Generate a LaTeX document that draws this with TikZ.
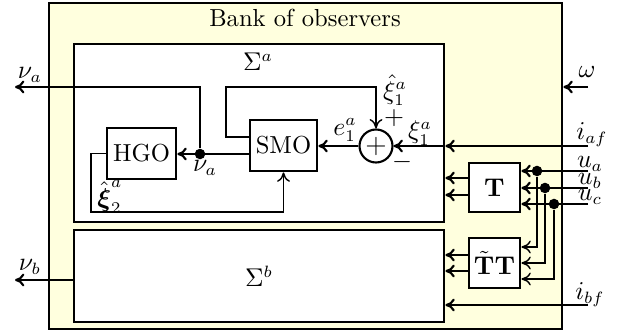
\documentclass[tikz,border=0pt]{standalone}
\usepackage{amsmath}
\usetikzlibrary{arrows.meta, calc}
\definecolor{cBank}{HTML}{FFFFDE}

\begin{document}
\begin{tikzpicture}[
    x=1cm, y=1cm, font=\fontsize{10.5}{12.5}\selectfont,
    box/.style={draw, line width=1.2pt, inner sep=0pt},
    blk/.style={box, fill=white},
    sig/.style={-{To[length=4pt,width=5.5pt]}, line width=0.9pt},
    fbk/.style={-{To[length=4pt,width=5.5pt]}, line width=0.6pt},
    dot/.style={circle, fill, inner sep=0pt, minimum size=4.5pt},
    lbl/.style={inner sep=1pt},
]
\useasboundingbox (0,0) rectangle (9.39,5.025);

% ===================== Banco de observadores =====================
\node[box, fill=cBank, minimum width=7.695cm, minimum height=4.89cm] (bank) at (4.5825,2.535) {};
\node[lbl] (title) at (4.575,4.755) {Bank of observers};

% ===================== Sigma a / Sigma b =====================
\node[blk, minimum width=5.55cm, minimum height=2.67cm] (sigA) at (3.885,3.03) {};
\node[lbl] (labA) at (3.87,4.095) {$\Sigma^a$};
\node[blk, minimum width=5.55cm, minimum height=1.38cm] (sigB) at (3.885,0.885) {$\Sigma^b$};

% ===================== HGO, SMO y sumador =====================
\node[blk, minimum width=1.035cm, minimum height=0.765cm] (hgo) at (2.1225,2.7225) {HGO};
\node[blk, minimum width=1.005cm, minimum height=0.765cm] (smo) at (4.2525,2.8425) {SMO};
\node[draw, circle, line width=0.9pt, fill=white, inner sep=0pt, minimum size=0.495cm] (sum) at (5.64,2.835) {\large$+$};

\node[dot] (jn) at (3.0,2.715) {};
\draw[sig] (smo.west |- jn) -- (hgo.east |- jn);
\coordinate (nuA) at (0.225,3.72);
\draw[sig] (jn) |- (nuA);
\node[lbl] at (0.45,3.9) {$\nu_a$};
\node[lbl] at (3.075,2.505) {$\nu_a$};

\coordinate (fb) at (3.39,3.72);
\draw[fbk] (smo.west |- 0,2.97) -| (fb) -| (sum.north);
\draw[fbk] (hgo.west) -| (1.365,1.845) -| (smo.south);
\draw[sig] (sum.west) -- (smo.east |- sum.west);

\node[lbl] at (5.175,3.075) {$e_1^a$};
\node[lbl] at (5.925,3.675) {$\hat{\xi}_1^a$};
\node[lbl] at (5.91,3.255) {$+$};
\node[lbl] at (6.03,2.595) {$-$};
\node[lbl] at (6.3,3.03) {$\xi_1^a$};
\node[lbl] at (1.65,2.07) {$\hat{\boldsymbol{\xi}}_2^a$};

% ===================== Entradas de corriente y velocidad =====================
\coordinate (iaf) at (8.82,2.835);
\draw[sig] (iaf) -- (sigA.east |- iaf);
\draw[sig] (sigA.east |- iaf) -- (sum.east);
\node[lbl] at (8.88,3.0) {$i_{af}$};

\coordinate (omg) at (8.82,3.72);
\draw[sig] (omg) -- (bank.east |- omg);
\node[lbl] at (8.805,3.945) {$\omega$};

\coordinate (ibf) at (8.82,0.45);
\draw[sig] (ibf) -- (sigB.east |- ibf);
\node[lbl] at (8.85,0.6) {$i_{bf}$};

\coordinate (nuB) at (0.225,0.825);
\draw[sig] (sigB.west |- nuB) -- (nuB);
\node[lbl] at (0.45,1.02) {$\nu_b$};

% ===================== Transformaciones T y TT =====================
\node[blk, minimum width=0.765cm, minimum height=0.735cm] (tA) at (7.4175,2.2125) {$\mathbf{T}$};
\node[blk, minimum width=0.765cm, minimum height=0.75cm] (tB) at (7.4175,1.08) {$\tilde{\mathbf{T}}\mathbf{T}$};

\foreach \y in {2.355,2.1}
    \draw[sig] (tA.west |- 0,\y) -- (sigA.east |- 0,\y);
\foreach \y in {1.2,0.96}
    \draw[sig] (tB.west |- 0,\y) -- (sigB.east |- 0,\y);

\foreach \y/\xd/\yb/\nm in {2.46/8.055/1.32/a, 2.205/8.175/1.08/b, 1.965/8.31/0.84/c} {
    \coordinate (u\nm) at (8.82,\y);
    \draw[sig] (u\nm) -- (tA.east |- u\nm);
    \node[dot] (d\nm) at (\xd,\y) {};
    \draw[fbk] (d\nm) |- (tB.east |- 0,\yb);
    \node[lbl] at (8.85,\y+0.11) {$u_\nm$};
}

\end{tikzpicture}
\end{document}
